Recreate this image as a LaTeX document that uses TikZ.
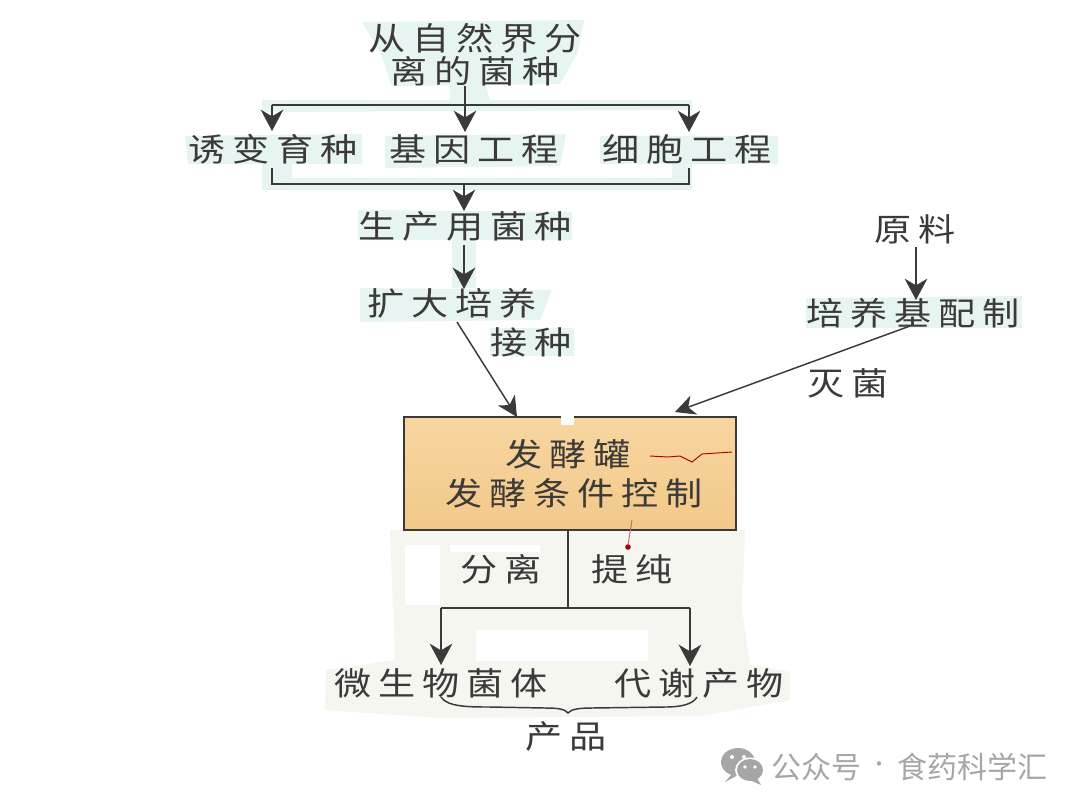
\documentclass[tikz,border=0pt]{standalone}
\usepackage{fontspec}
\usetikzlibrary{arrows.meta,calc}
\newfontfamily\cjkspaced[LetterSpace=22,FakeStretch=1.16]{Noto Sans CJK SC}
\newfontfamily\cjkplain{Noto Sans CJK SC}
\definecolor{ink}{HTML}{3C3A38}
\definecolor{tealbg}{HTML}{E6F4F2}
\definecolor{paperbg}{HTML}{F5F6F0}
\definecolor{boxtop}{HTML}{F7D6A0}
\definecolor{boxbot}{HTML}{F3C88A}
\definecolor{wmgrey}{HTML}{A6A6A6}
\tikzset{
  lbl/.style={inner sep=0pt,text=ink,font=\fontsize{24}{28}\selectfont\cjkspaced},
  wm/.style={inner sep=0pt,text=wmgrey,font=\fontsize{22.5}{26}\selectfont\cjkplain},
  wire/.style={draw=ink,line width=1.3pt},
  arr/.style={wire,-{Stealth[length=16pt,width=17pt,inset=5pt]}},
  thinarr/.style={draw=ink,line width=1.1pt,-{Stealth[length=15pt,width=15pt,inset=4.5pt]}},
}
\begin{document}
\begin{tikzpicture}[x=0.75pt,y=-0.75pt]
\useasboundingbox (0,0) rectangle (1080,810);
% paper tint patches
\fill[tealbg] (362,22) -- (584,20) -- (578,52) -- (560,84) -- (392,86) -- (380,52) -- cycle;
\fill[tealbg] (450,84) -- (485,84) -- (490,100) -- (450,112) -- cycle;
\fill[tealbg] (262,100) -- (692,100) -- (692,110) -- (262,112) -- cycle;
\fill[tealbg] (185,136) -- (362,134) -- (362,164) -- (188,164) -- cycle;
\fill[tealbg] (385,136) -- (566,134) -- (560,166) -- (385,168) -- cycle;
\fill[tealbg] (600,136) -- (778,136) -- (778,164) -- (600,164) -- cycle;
\fill[tealbg] (262,164) -- (292,164) -- (292,190) -- (262,190) -- cycle;
\fill[tealbg] (672,164) -- (692,164) -- (692,190) -- (672,190) -- cycle;
\fill[tealbg] (262,178) -- (692,178) -- (692,190) -- (262,190) -- cycle;
\fill[tealbg] (358,210) -- (572,212) -- (572,240) -- (358,240) -- cycle;
\fill[tealbg] (452,240) -- (476,240) -- (476,288) -- (452,288) -- cycle;
\fill[tealbg] (360,288) -- (552,290) -- (540,320) -- (360,322) -- cycle;
\fill[tealbg] (806,298) -- (1022,296) -- (1022,328) -- (806,328) -- cycle;
\fill[tealbg] (490,328) -- (574,328) -- (574,356) -- (490,356) -- cycle;
\fill[paperbg] (390,530) -- (745,530) -- (742,610) -- (750,665) -- (790,672) -- (790,700) -- (700,716) -- (440,718) -- (325,710) -- (326,670) -- (395,660) -- cycle;
\fill[white] (405,545) rectangle (440,605);
\fill[white] (476,630) rectangle (648,661);
\fill[white] (450,545) rectangle (540,552);
% box
\node[draw=ink,line width=1.6pt,top color=boxtop,bottom color=boxbot,minimum width=332*0.75pt,minimum height=113*0.75pt,inner sep=0pt] (tank) at (570,473.5) {};
\fill[white] (561,414) rectangle (574,425);
\draw[red!65!black,line width=.7pt] (650,456) -- (668,457) -- (680,456) -- (692,462) -- (702,454) -- (732,452);
\fill[red!65!black] (628,547) circle (2.8);
\draw[red!60!black!60,line width=.7pt] (632,520) -- (628,545);
% labels
\node[lbl] (src1) at (475,38) {从自然界分};
\node[lbl] (src2) at (475,71) {离的菌种};
\node[lbl] (mut) at (273,149) {诱变育种};
\node[lbl] (gene) at (474,149) {基因工程};
\node[lbl] (cell) at (687,149) {细胞工程};
\node[lbl] (prod) at (465,226) {生产用菌种};
\node[lbl] (exp) at (452,303) {扩大培养};
\node[lbl] (inoc) at (531,342) {接种};
\node[lbl] (raw) at (915,229) {原料};
\node[lbl] (medium) at (913,313) {培养基配制};
\node[lbl] (steril) at (848,383) {灭菌};
\node[lbl] (t1) at (568,454) {发酵罐};
\node[lbl] (t2) at (574,493) {发酵条件控制};
\node[lbl] (sep) at (501,569) {分离};
\node[lbl] (pur) at (632,569) {提纯};
\node[lbl] (cells) at (441,683) {微生物菌体};
\node[lbl] (meta) at (699,683) {代谢产物};
\node[lbl] (goods) at (566,736) {产品};
% junctions
\coordinate (topL) at (272,105);
\coordinate (topM) at (465,105);
\coordinate (topR) at (689,105);
\coordinate (botL) at (272,184);
\coordinate (botM) at (464,184);
\coordinate (botR) at (689,184);
\coordinate (tankTopA) at (517,417);
\coordinate (tankTopB) at (675,412);
\coordinate (outM) at (568,608);
\coordinate (outL) at (441,608);
\coordinate (outR) at (690,608);
% connectors
\draw[wire] (topL) -- (topR);
\draw[arr] (topL) -- (272,131);
\draw[arr] (src2.south -| topM) -- (465,132);
\draw[arr] (topR) -- (689,132);
\draw[wire] (272,168) -- (botL) -- (botR) -- (689,168);
\draw[arr] (botM) -- (464,211);
\draw[arr] (prod.south -| botM) ++(0,4) -- (464,289);
\draw[thinarr] (457,322) -- (tankTopA);
\draw[arr] (raw.south -| 916,0) ++(0,3) -- (916,300);
\draw[thinarr] (910,326) -- (tankTopB);
\draw[wire] (tank.south -| outM) -- (outM);
\draw[wire] (outL) -- (outR);
\draw[arr] (outL) -- (441,665);
\draw[arr] (outR) -- (690,666);
% brace
\draw[draw=ink,line width=1.1pt] (441,697) .. controls (447,707) and (470,707) .. (490,707) -- (545,708) .. controls (558,708) and (565,709) .. (568,713) .. controls (571,709) and (580,708) .. (592,708) -- (665,707) .. controls (682,707) and (693,704) .. (697,697);
% watermark
\fill[wmgrey] (738,762) ellipse (17 and 14);
\fill[wmgrey] (731,775) -- (725,782) -- (738,775) -- cycle;
\fill[white] (750,770) ellipse (15 and 12.5);
\fill[wmgrey] (750,770) ellipse (13 and 11);
\fill[wmgrey] (757,778) -- (761,785) -- (750,780) -- cycle;
\fill[white] (732,757) circle (2) (744,757) circle (2) (745,767) circle (1.8) (755,767) circle (1.8);
\node[wm,anchor=west] (mark) at (771,767) {公众号};
\node[wm,font=\fontsize{15}{18}\selectfont\cjkplain] (dot) at (879,767) {·};
\node[wm,anchor=west] (mark2) at (897,767) {食药科学汇};
\end{tikzpicture}
\end{document}
